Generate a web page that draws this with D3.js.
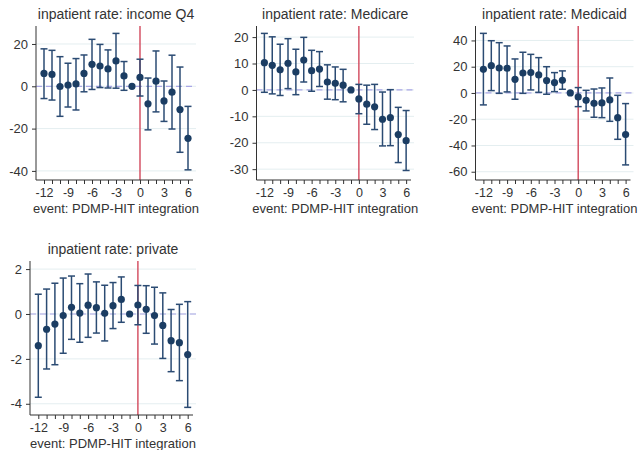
<!DOCTYPE html>
<html>
<head>
<meta charset="utf-8">
<script src="https://cdn.jsdelivr.net/npm/d3@7"></script>
<style>
  body { margin: 0; background: white; }
  text { font-family: "Liberation Sans", Arial, sans-serif; fill: #333; }
</style>
</head>
<body>
<div id="chart"></div>
<script>
var events = [-12, -11, -10, -9, -8, -7, -6, -5, -4, -3, -2, -1, 0, 1, 2, 3, 4, 5, 6];
var xTickLabels = [-12, -9, -6, -3, 0, 3, 6];

var incomeCoef = [6.1, 5.6, -0.1, 0.6, 1.1, 6.1, 10.4, 9.6, 8.2, 12.0, 4.9, 0, 4.2, -8.3, 2.4, -6.9, -2.8, -11.0, -24.6];
var incomeLo = [-5.8, -6.5, -14.2, -9.8, -11.2, -2.6, -1.5, -0.6, -0.8, -0.9, -1.9, null, -4.6, -20.6, -12.1, -16.6, -20.2, -31.2, -39.5];
var incomeHi = [17.7, 17.0, 14.0, 10.9, 13.1, 14.8, 22.2, 19.8, 17.2, 25.0, 11.7, null, 12.8, 3.9, 16.7, 2.5, 14.7, 9.1, -9.5];
var incomeTicks = [-40, -20, 0, 20];

var medicareCoef = [10.3, 9.3, 7.6, 10.1, 6.8, 11.3, 7.3, 7.9, 3.0, 2.5, 1.8, 0, -3.4, -5.4, -6.4, -11.1, -10.5, -16.9, -19.2];
var medicareLo = [-0.9, -1.5, -2.1, 0.5, -1.8, 3.0, -0.5, 1.3, -3.5, -3.7, -4.5, null, -9.0, -13.0, -15.0, -21.2, -21.1, -27.5, -30.5];
var medicareHi = [21.4, 20.1, 17.3, 19.4, 15.4, 19.9, 15.0, 14.5, 9.5, 8.7, 7.8, null, 2.1, 1.8, 2.1, -0.8, 0.1, -6.6, -7.8];
var medicareTicks = [-30, -20, -10, 0, 10, 20];

var medicaidCoef = [18.0, 20.8, 19.0, 18.8, 10.4, 15.2, 15.5, 13.7, 9.4, 7.9, 9.6, 0, -3.0, -5.6, -7.9, -7.6, -5.3, -18.8, -31.7];
var medicaidLo = [-9.1, 1.8, -0.3, 0.8, -4.8, -0.3, 2.3, 0.5, -1.0, 1.0, 2.8, null, -10.4, -13.7, -18.5, -18.8, -21.6, -35.3, -54.8];
var medicaidHi = [45.4, 39.8, 38.3, 35.8, 25.9, 31.0, 29.4, 26.9, 20.0, 15.5, 16.8, null, 4.1, 2.0, 3.0, 3.8, 11.4, -1.8, -8.1];
var medicaidTicks = [-60, -40, -20, 0, 20, 40];

var privateCoef = [-1.41, -0.68, -0.45, -0.07, 0.30, 0.04, 0.39, 0.28, 0.03, 0.37, 0.65, 0, 0.40, 0.21, -0.07, -0.51, -1.19, -1.28, -1.81];
var privateLo = [-3.71, -2.45, -2.26, -1.75, -1.13, -1.26, -1.04, -0.85, -1.20, -0.65, -0.37, null, -0.48, -0.86, -1.34, -1.98, -2.57, -2.97, -4.16];
var privateHi = [0.88, 1.11, 1.37, 1.60, 1.69, 1.35, 1.78, 1.43, 1.28, 1.40, 1.65, null, 1.27, 1.26, 1.19, 0.94, 0.20, 0.43, 0.55];
var privateTicks = [-4, -2, 0, 2];

var w = 639;
var h = 450;
var navy = "#1b3d63";
var barColor = "#2b4b73";

var svg = d3.select("#chart")
  .append("svg")
  .attr("width", w)
  .attr("height", h);

svg.append("rect")
  .attr("width", w)
  .attr("height", h)
  .attr("fill", "white");

// one entry per panel: plot box and y range
var panels = [
  { title: "inpatient rate: income Q4", coef: incomeCoef, lo: incomeLo, hi: incomeHi, ticks: incomeTicks,
    left: 36, right: 196, top: 26, bottom: 180, yMin: -44.3, yMax: 28.5 },
  { title: "inpatient rate: Medicare", coef: medicareCoef, lo: medicareLo, hi: medicareHi, ticks: medicareTicks,
    left: 256.5, right: 414, top: 26, bottom: 180, yMin: -34.1, yMax: 24.2 },
  { title: "inpatient rate: Medicaid", coef: medicaidCoef, lo: medicaidLo, hi: medicaidHi, ticks: medicaidTicks,
    left: 475.5, right: 633.5, top: 26, bottom: 180, yMin: -66.3, yMax: 51 },
  { title: "inpatient rate: private", coef: privateCoef, lo: privateLo, hi: privateHi, ticks: privateTicks,
    left: 30, right: 196, top: 261, bottom: 415, yMin: -4.5, yMax: 2.36 }
];

panels.forEach(drawPanel);

function drawPanel(p) {
  var g = svg.append("g");

  var x = d3.scaleLinear()
    .domain([-13, 7])
    .range([p.left, p.right]);

  var y = d3.scaleLinear()
    .domain([p.yMin, p.yMax])
    .range([p.bottom, p.top]);

  var rows = events.map(function(e, i) {
    return { e: e, coef: p.coef[i], lo: p.lo[i], hi: p.hi[i] };
  });

  // grid
  g.selectAll("line.grid")
    .data(p.ticks)
    .enter()
    .append("line")
    .attr("class", "grid")
    .attr("x1", p.left)
    .attr("x2", p.right)
    .attr("y1", function(d) { return y(d); })
    .attr("y2", function(d) { return y(d); })
    .attr("stroke", "#e4eef0")
    .attr("stroke-width", 1);

  // zero line
  g.append("line")
    .attr("x1", p.left)
    .attr("x2", p.right)
    .attr("y1", y(0))
    .attr("y2", y(0))
    .attr("stroke", "#a9a6e6")
    .attr("stroke-width", 1.2)
    .attr("stroke-dasharray", "6,4");

  // event line
  g.append("line")
    .attr("x1", x(0))
    .attr("x2", x(0))
    .attr("y1", p.top)
    .attr("y2", p.bottom)
    .attr("stroke", "#d2485c")
    .attr("stroke-width", 1.4);

  // y axis
  var yAxis = d3.axisLeft(y)
    .tickValues(p.ticks)
    .tickSize(4)
    .tickPadding(4)
    .tickFormat(function(d) { return String(d); });

  var ya = g.append("g")
    .attr("transform", "translate(" + p.left + ",0)")
    .call(yAxis);
  ya.select(".domain").attr("d", "M0," + p.top + "V" + p.bottom);
  ya.selectAll("line, path").attr("stroke", "#333");
  ya.selectAll("text")
    .style("font-size", "13px")
    .attr("fill", "#333");

  // x axis, tick every event, labels every 3
  var xAxis = d3.axisBottom(x)
    .tickValues(events)
    .tickSize(4)
    .tickPadding(4)
    .tickFormat(function(d) { return xTickLabels.indexOf(d) >= 0 ? String(d) : ""; });

  var xa = g.append("g")
    .attr("transform", "translate(0," + p.bottom + ")")
    .call(xAxis);
  xa.select(".domain").attr("d", "M" + p.left + ",0H" + (p.right - 3));
  xa.selectAll("line, path").attr("stroke", "#333");
  xa.selectAll("text")
    .style("font-size", "12.5px")
    .attr("fill", "#333");
  xa.selectAll("text")
    .filter(function() { return this.textContent === ""; })
    .remove();

  // error bars
  var ci = rows.filter(function(d) { return d.lo !== null; });

  g.selectAll("line.ci")
    .data(ci)
    .enter()
    .append("line")
    .attr("class", "ci")
    .attr("x1", function(d) { return x(d.e); })
    .attr("x2", function(d) { return x(d.e); })
    .attr("y1", function(d) { return y(d.lo); })
    .attr("y2", function(d) { return y(d.hi); })
    .attr("stroke", barColor)
    .attr("stroke-width", 1.5);

  g.selectAll("line.capTop")
    .data(ci)
    .enter()
    .append("line")
    .attr("class", "capTop")
    .attr("x1", function(d) { return x(d.e) - 3.5; })
    .attr("x2", function(d) { return x(d.e) + 3.5; })
    .attr("y1", function(d) { return y(d.hi); })
    .attr("y2", function(d) { return y(d.hi); })
    .attr("stroke", barColor)
    .attr("stroke-width", 1.5);

  g.selectAll("line.capBot")
    .data(ci)
    .enter()
    .append("line")
    .attr("class", "capBot")
    .attr("x1", function(d) { return x(d.e) - 3.5; })
    .attr("x2", function(d) { return x(d.e) + 3.5; })
    .attr("y1", function(d) { return y(d.lo); })
    .attr("y2", function(d) { return y(d.lo); })
    .attr("stroke", barColor)
    .attr("stroke-width", 1.5);

  // points
  g.selectAll("circle.pt")
    .data(rows)
    .enter()
    .append("circle")
    .attr("class", "pt")
    .attr("cx", function(d) { return x(d.e); })
    .attr("cy", function(d) { return y(d.coef); })
    .attr("r", 3.6)
    .attr("fill", navy);

  // titles
  g.append("text")
    .attr("x", (p.left + p.right) / 2)
    .attr("y", p.top - 7)
    .attr("text-anchor", "middle")
    .style("font-size", "14px")
    .text(p.title);

  g.append("text")
    .attr("x", (p.left + p.right) / 2)
    .attr("y", p.bottom + 33)
    .attr("text-anchor", "middle")
    .style("font-size", "13px")
    .text("event: PDMP-HIT integration");
}
</script>
</body>
</html>
